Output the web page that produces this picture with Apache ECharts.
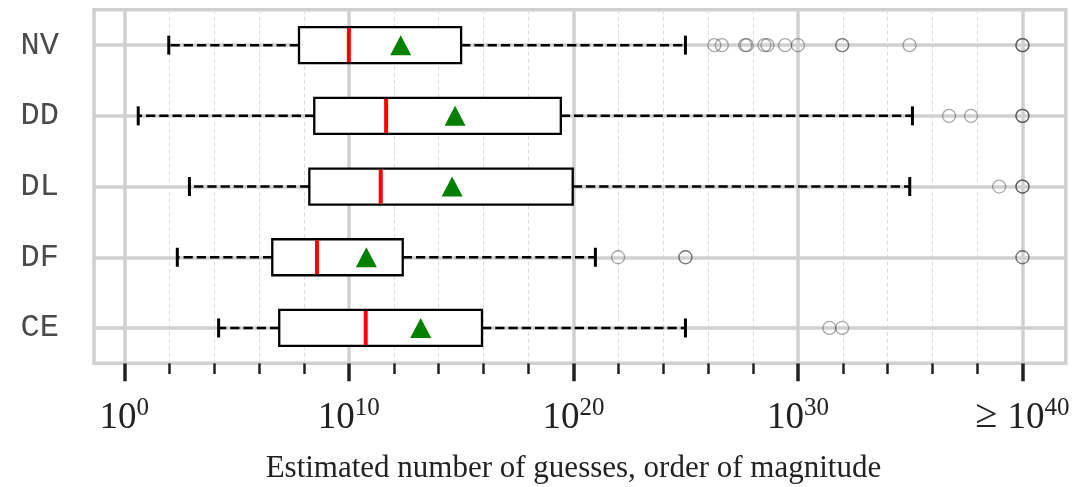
<!DOCTYPE html>
<html>
<head>
<meta charset="utf-8">
<script src="https://cdn.jsdelivr.net/npm/echarts@6/dist/echarts.min.js"></script>
<style>
html,body{margin:0;padding:0;background:#fff;}
#chart{width:1076px;height:487px;}
</style>
</head>
<body>
<div id="chart"></div>
<script>
// ---- data (exponents of 10) ----
var categories = ['NV', 'DD', 'DL', 'DF', 'CE'];
var whiskerLow  = [1.98, 0.62, 2.90, 2.36, 4.20];
var q1          = [7.78, 8.46, 8.24, 6.59, 6.90];
var median      = [10.00, 11.66, 11.42, 8.58, 10.75];
var q3          = [15.00, 19.44, 19.97, 12.40, 15.93];
var whiskerHigh = [24.99, 35.10, 34.98, 20.98, 24.99];
var means       = [12.31, 14.73, 14.60, 10.78, 13.20];
var outliersNV = [26.28, 26.61, 27.65, 27.72, 28.51, 28.64, 29.43, 30.0, 31.97, 31.97, 34.97, 40, 40, 40];
var outliersDD = [36.73, 37.71, 40, 40, 40];
var outliersDL = [38.96, 40, 40, 40];
var outliersDF = [21.99, 24.99, 24.99, 40, 40];
var outliersCE = [31.40, 31.97];
var outliers = [outliersNV, outliersDD, outliersDL, outliersDF, outliersCE];

var majorTicks = [0, 10, 20, 30, 40];
var majorTickExp = ['0', '10', '20', '30', '40'];
var minorTicks = [2, 4, 6, 8, 12, 14, 16, 18, 22, 24, 26, 28, 32, 34, 36, 38];
var axisTitle = 'Estimated number of guesses, order of magnitude';

// ---- build ----
var boxData = categories.map(function (c, i) {
  return [i, whiskerLow[i], q1[i], median[i], q3[i], whiskerHigh[i]];
});
var meanData = categories.map(function (c, i) { return [means[i], i]; });
var outlierData = [];
outliers.forEach(function (arr, i) { arr.forEach(function (v) { outlierData.push([v, i]); }); });

var xMin = -1.35, xMax = 41.93;
var gridColor = '#d0d0d0';

var chart = echarts.init(document.getElementById('chart'));
chart.setOption({
  animation: false,
  grid: {
    left: 94, right: 10.2, top: 9.8, height: 353.5,
    outerBoundsMode: 'none', containLabel: false,
    show: true, borderColor: gridColor, borderWidth: 3.5, backgroundColor: 'transparent'
  },
  xAxis: [{
    type: 'value', min: xMin, max: xMax, position: 'bottom',
    axisLine: { show: false },
    splitLine: { show: false },
    axisTick: { show: true, customValues: majorTicks, length: 18, lineStyle: { color: '#222', width: 3.5 } },
    axisLabel: {
      show: true, customValues: majorTicks, margin: 33,
      formatter: function (v) {
        var i = majorTicks.indexOf(v);
        var e = majorTickExp[i];
        return (i === majorTicks.length - 1 ? '{g|≥}' : '') + '{b|10}{s|' + e + '}';
      },
      rich: {
        b: { fontFamily: 'Liberation Serif', fontSize: 37, color: '#222', verticalAlign: 'bottom', lineHeight: 40 },
        s: { fontFamily: 'Liberation Serif', fontSize: 25, color: '#222', verticalAlign: 'top', lineHeight: 6 },
        g: { fontFamily: 'Liberation Serif', fontSize: 40, color: '#222', verticalAlign: 'bottom', lineHeight: 40, padding: [0, 10, 0, 0] }
      }
    },
    name: axisTitle, nameLocation: 'middle', nameGap: 90,
    nameTextStyle: { fontFamily: 'Liberation Serif', fontSize: 31, color: '#222', padding: [0, 13, 0, 0] }
  }, {
    type: 'value', min: xMin, max: xMax, position: 'bottom',
    axisLine: { show: false },
    splitLine: { show: false },
    axisLabel: { show: false },
    axisTick: { show: true, customValues: minorTicks, length: 10.7, lineStyle: { color: '#222', width: 2.5 } }
  }],
  yAxis: {
    type: 'category', data: categories, inverse: true,
    axisLine: { show: false }, axisTick: { show: false }, splitLine: { show: false },
    axisLabel: { fontFamily: 'Liberation Mono', fontSize: 32, color: '#4a4a4a', margin: 35 }
  },
  series: [{
    type: 'line', data: [], silent: true,
    markLine: {
      silent: true, symbol: 'none', z: 1, animation: false,
      label: { show: false },
      emphasis: { disabled: true },
      data: [].concat(
        minorTicks.map(function (v) { return { xAxis: v, lineStyle: { color: '#dcdcdc', width: 1, type: [4, 3] } }; }),
        majorTicks.map(function (v) { return { xAxis: v, lineStyle: { color: gridColor, width: 3.5, type: 'solid' } }; }),
        categories.map(function (c) { return { yAxis: c, lineStyle: { color: gridColor, width: 3.5, type: 'solid' } }; })
      )
    }
  }, {
    type: 'custom', z: 3,
    encode: { x: [1, 2, 3, 4, 5], y: 0 },
    data: boxData,
    renderItem: function (params, api) {
      var c = api.value(0);
      var pLo = api.coord([api.value(1), c]);
      var pQ1 = api.coord([api.value(2), c]);
      var pMed = api.coord([api.value(3), c]);
      var pQ3 = api.coord([api.value(4), c]);
      var pHi = api.coord([api.value(5), c]);
      var y = pLo[1];
      var half = 18, cap = 9.5;
      var dash = { stroke: '#000', lineWidth: 2.5, lineDash: [9.25, 4], fill: null };
      var solid = { stroke: '#000', lineWidth: 3, fill: null };
      return {
        type: 'group',
        children: [
          { type: 'line', shape: { x1: pQ1[0], y1: y, x2: pLo[0], y2: y }, style: dash },
          { type: 'line', shape: { x1: pQ3[0], y1: y, x2: pHi[0], y2: y }, style: dash },
          { type: 'line', shape: { x1: pLo[0], y1: y - cap, x2: pLo[0], y2: y + cap }, style: solid },
          { type: 'line', shape: { x1: pHi[0], y1: y - cap, x2: pHi[0], y2: y + cap }, style: solid },
          { type: 'rect', shape: { x: pQ1[0], y: y - half, width: pQ3[0] - pQ1[0], height: half * 2 },
            style: { fill: '#fff', stroke: '#000', lineWidth: 2.3 } },
          { type: 'line', shape: { x1: pMed[0], y1: y - half + 1, x2: pMed[0], y2: y + half - 1 },
            style: { stroke: '#ff0000', lineWidth: 4 } }
        ]
      };
    }
  }, {
    type: 'scatter', z: 4, data: meanData, symbol: 'triangle', symbolSize: [21, 20],
    itemStyle: { color: '#008000', opacity: 1 }
  }, {
    type: 'scatter', z: 4, data: outlierData, symbol: 'circle', symbolSize: 13,
    itemStyle: { color: 'rgba(0,0,0,0)', borderColor: 'rgba(60,60,60,0.55)', borderWidth: 1.3 }
  }]
});
</script>
</body>
</html>
